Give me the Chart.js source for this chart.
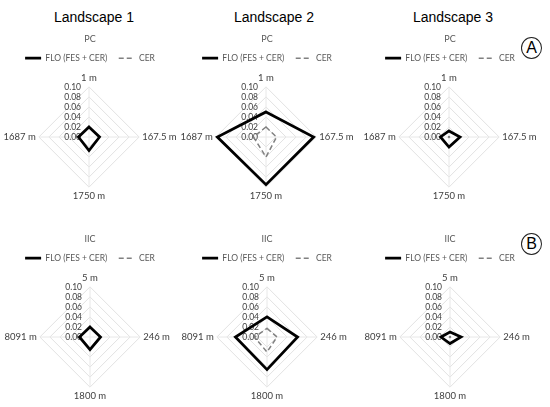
<!DOCTYPE html>
<html>
<head>
<meta charset="utf-8">
<script src="https://cdn.jsdelivr.net/npm/chart.js@4/dist/chart.umd.min.js"></script>
<style>
  html, body { margin:0; padding:0; background:#fff; width:550px; height:407px; overflow:hidden; }
  .land { position:absolute; font-family:'Liberation Sans', Arial, sans-serif; font-size:14px; color:#000; transform:translateX(-50%); white-space:nowrap; line-height:14px; }
  .tag { position:absolute; width:19px; height:20px; border:1px solid #222; border-radius:50%; font-family:'Liberation Sans', Arial, sans-serif; font-size:16px; line-height:20px; text-align:center; color:#000; }
</style>
</head>
<body>
<div class="land" style="left:94px; top:10px;">Landscape 1</div>
<div class="land" style="left:274px; top:10px;">Landscape 2</div>
<div class="land" style="left:453px; top:10px;">Landscape 3</div>
<div class="tag" style="left:521px; top:37px;">A</div>
<div class="tag" style="left:521px; top:233px;">B</div>

<canvas id="c1" width="200" height="172" style="position:absolute; left:-10px; top:30px;"></canvas>
<canvas id="c2" width="200" height="172" style="position:absolute; left:167px; top:30px;"></canvas>
<canvas id="c3" width="200" height="172" style="position:absolute; left:350px; top:30px;"></canvas>
<canvas id="c4" width="200" height="172" style="position:absolute; left:-10px; top:230px;"></canvas>
<canvas id="c5" width="200" height="172" style="position:absolute; left:167px; top:230px;"></canvas>
<canvas id="c6" width="200" height="172" style="position:absolute; left:350px; top:230px;"></canvas>

<script>
// ---- data ----
const axisLabelsPC  = ['1 m', '167.5 m', '1750 m', '1687 m'];
const axisLabelsIIC = ['5 m', '246 m', '1800 m', '8091 m'];
const tickLabels = ['0.00', '0.02', '0.04', '0.06', '0.08', '0.10'];
const seriesNames = ['FLO (FES + CER)', 'CER'];

const pcFLO_L1 = [0.020, 0.021, 0.027, 0.021];
const pcCER_L1 = [0.020, 0.021, 0.027, 0.021];
const pcFLO_L2 = [0.050, 0.095, 0.095, 0.097];
const pcCER_L2 = [0.020, 0.021, 0.040, 0.025];
const pcFLO_L3 = [0.012, 0.022, 0.020, 0.017];
const pcCER_L3 = [0.002, 0.001, 0.001, 0.001];

const iicFLO_L1 = [0.020, 0.021, 0.025, 0.021];
const iicCER_L1 = [0.020, 0.021, 0.025, 0.021];
const iicFLO_L2 = [0.040, 0.061, 0.065, 0.063];
const iicCER_L2 = [0.017, 0.020, 0.030, 0.025];
const iicFLO_L3 = [0.010, 0.022, 0.013, 0.018];
const iicCER_L3 = [0.002, 0.001, 0.001, 0.001];

const panels = [
  {id:'c1', title:'PC',  labels:axisLabelsPC,  flo:pcFLO_L1,  cer:pcCER_L1},
  {id:'c2', title:'PC',  labels:axisLabelsPC,  flo:pcFLO_L2,  cer:pcCER_L2},
  {id:'c3', title:'PC',  labels:axisLabelsPC,  flo:pcFLO_L3,  cer:pcCER_L3},
  {id:'c4', title:'IIC', labels:axisLabelsIIC, flo:iicFLO_L1, cer:iicCER_L1},
  {id:'c5', title:'IIC', labels:axisLabelsIIC, flo:iicFLO_L2, cer:iicCER_L2},
  {id:'c6', title:'IIC', labels:axisLabelsIIC, flo:iicFLO_L3, cer:iicCER_L3},
];

const FONT = "Lato, 'Open Sans', sans-serif";

const leftTicks = {
  id: 'leftTicks',
  beforeDatasetsDraw(chart) {
    const s = chart.scales.r, ctx = chart.ctx;
    ctx.save();
    ctx.font = '8.5px ' + FONT;
    ctx.fillStyle = '#404040';
    ctx.textAlign = 'right';
    ctx.textBaseline = 'middle';
    tickLabels.forEach(t => {
      const d = s.getDistanceFromCenterForValue(parseFloat(t));
      ctx.fillText(t, s.xCenter - 8, s.yCenter - d);
    });
    ctx.restore();
  }
};

function legendLabels(chart) {
  const items = Chart.defaults.plugins.legend.labels.generateLabels(chart);
  items.forEach(it => {
    const ds = chart.data.datasets[it.datasetIndex];
    it.lineDash = ds.borderDash || [];
    it.lineWidth = ds.borderWidth;
    it.strokeStyle = ds.borderColor;
  });
  return items;
}

function build() {
  panels.forEach(p => {
    new Chart(document.getElementById(p.id), {
      type: 'radar',
      data: {
        labels: p.labels,
        datasets: [
          { label: seriesNames[0], data: p.flo, borderColor: '#000', backgroundColor: 'rgba(0,0,0,0)',
            borderWidth: 2.75, fill: false, pointRadius: 0, borderJoinStyle: 'miter', order: 1 },
          { label: seriesNames[1], data: p.cer, borderColor: '#808080', backgroundColor: 'rgba(0,0,0,0)',
            borderWidth: 1.5, borderDash: [5, 3], fill: false, pointRadius: 0, borderJoinStyle: 'miter', order: 2 }
        ]
      },
      options: {
        responsive: false,
        animation: false,
        layout: { padding: 0 },
        plugins: {
          title: { display: true, text: p.title, color: '#595959',
                   font: { family: FONT, size: 9, weight: 'normal' },
                   padding: { top: 4, bottom: -2.3 } },
          legend: { display: true, position: 'top',
                    labels: { color: '#595959', font: { family: FONT, size: 8.5 },
                              usePointStyle: true, pointStyle: 'line', pointStyleWidth: 16,
                              padding: 11.45, generateLabels: legendLabels } },
          tooltip: { enabled: false }
        },
        scales: {
          r: {
            min: 0, max: 0.1,
            ticks: { display: false, stepSize: 0.02 },
            grid: { color: '#e2e2e2', lineWidth: 1 },
            angleLines: { color: '#e8e8e8', lineWidth: 1 },
            pointLabels: { color: '#404040', font: { family: FONT, size: 9.5 }, padding: 3 }
          }
        }
      },
      plugins: [leftTicks]
    });
  });
}

if (document.fonts && document.fonts.load) {
  Promise.all([document.fonts.load('9px Lato'), document.fonts.load('14px "Liberation Sans"')])
    .then(build, build);
} else { build(); }
</script>
</body>
</html>
